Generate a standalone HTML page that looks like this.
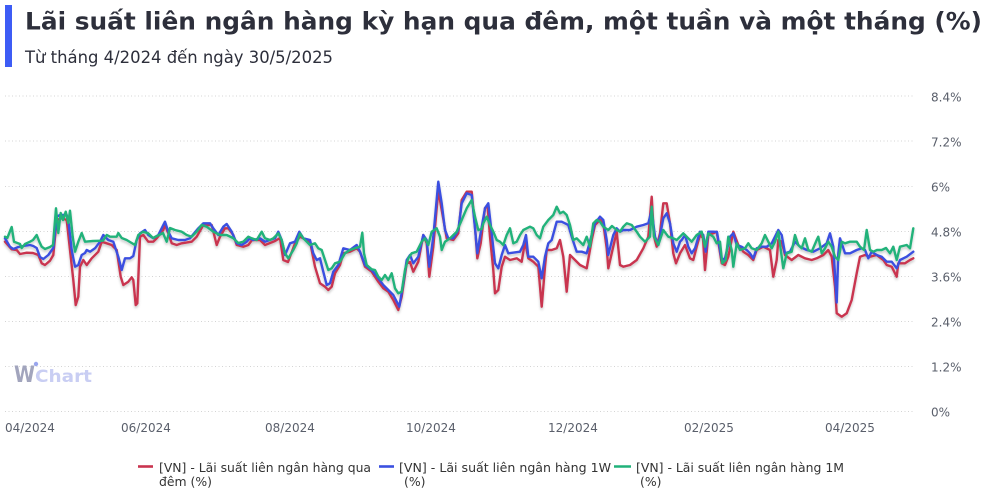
<!DOCTYPE html>
<html><head><meta charset="utf-8"><style>
html,body{margin:0;padding:0;background:#fff;}
svg{display:block;}
</style></head><body>
<svg width="1000" height="495" viewBox="0 0 1000 495" xmlns="http://www.w3.org/2000/svg">
<defs>
<filter id="sh" x="-5%" y="-10%" width="110%" height="130%">
<feDropShadow dx="0" dy="2" stdDeviation="1.2" flood-color="#000" flood-opacity="0.22"/>
</filter>
</defs>
<rect width="1000" height="495" fill="#fff"/>
<!-- title -->
<rect x="5" y="5" width="7" height="62" fill="#3d5cf5"/>
<text x="25" y="29.5" font-family="DejaVu Sans, Liberation Sans, sans-serif" font-weight="bold" font-size="24" fill="#2d2f3b" textLength="957" lengthAdjust="spacingAndGlyphs">Lãi suất liên ngân hàng kỳ hạn qua đêm, một tuần và một tháng (%)</text>
<text x="25" y="63" font-family="DejaVu Sans, Liberation Sans, sans-serif" font-size="16.4" fill="#2d2f3b" textLength="308" lengthAdjust="spacingAndGlyphs">Từ tháng 4/2024 đến ngày 30/5/2025</text>

<!-- gridlines -->
<g stroke="#d4d4d4" stroke-width="1" stroke-dasharray="1,2.5">
<line x1="5" y1="96" x2="915" y2="96"/>
<line x1="5" y1="141" x2="915" y2="141"/>
<line x1="5" y1="186.5" x2="915" y2="186.5"/>
<line x1="5" y1="231.5" x2="915" y2="231.5"/>
<line x1="5" y1="276.5" x2="915" y2="276.5"/>
<line x1="5" y1="321.5" x2="915" y2="321.5"/>
<line x1="5" y1="366.5" x2="915" y2="366.5"/>
<line x1="5" y1="411.5" x2="915" y2="411.5"/>
</g>
<g font-family="DejaVu Sans, Liberation Sans, sans-serif" font-size="12" fill="#5a5f6b">
<text x="931" y="101.5">8.4%</text>
<text x="931" y="146.5">7.2%</text>
<text x="931" y="191.5">6%</text>
<text x="931" y="236.5">4.8%</text>
<text x="931" y="281.5">3.6%</text>
<text x="931" y="326.5">2.4%</text>
<text x="931" y="371.5">1.2%</text>
<text x="931" y="416.5">0%</text>
<text x="5" y="432">04/2024</text>
<text x="121" y="432">06/2024</text>
<text x="265" y="432">08/2024</text>
<text x="406" y="432">10/2024</text>
<text x="548" y="432">12/2024</text>
<text x="684" y="432">02/2025</text>
<text x="825" y="432">04/2025</text>
</g>

<!-- watermark -->
<g font-family="DejaVu Sans, Liberation Sans, sans-serif" font-weight="bold">
<text x="14" y="382" font-size="22" fill="#a2a5bd" textLength="21" lengthAdjust="spacingAndGlyphs">W</text>
<circle cx="36" cy="364" r="2.2" fill="#9aa6ee"/>
<text x="35" y="382" font-size="17" fill="#c9cef3" textLength="57" lengthAdjust="spacingAndGlyphs">Chart</text>
</g>

<!-- series -->
<g fill="none" stroke-width="2.4" stroke-linejoin="round" stroke-linecap="round" filter="url(#sh)">
<polyline stroke="#c9344f" points="5,241.7 11.7,249.3 16.7,250 20,254 26.7,252.7 33,253 38.3,255 41.7,263.3 45,265 50,260.7 53.3,255 56.7,220 61.7,218.3 66.7,220 70,250 73.3,280 75.7,305 78.3,296.7 80,266.7 83.3,260 86.7,265 91.7,258.3 98.3,251.7 101.7,241.7 106.7,243.3 111.7,245 116.7,250 120.7,276.7 123.3,285 128.3,281.7 131.7,277.3 133.3,280 135.7,305 137.3,303.3 140,236.7 143.3,235 148.3,241.7 153.3,241.7 156.7,238.3 163.3,230 165,225 168.3,233.3 171.7,243.3 176.7,245 181.7,243.3 191.7,241.7 196.7,236.7 203.3,225 211.7,225 216.7,245 220,236.7 225,228.3 228.3,228.3 233.3,235 236.7,245 243.3,246.7 248.3,245 252,240 260,240 265,245 275,241 280,238 283.3,260 288,262 295,243.3 300,236.7 310,241.7 315,266.7 320,283.3 325,286.7 328.3,290 331.7,286.7 335,273.3 340,265 343.3,253.3 350,251.7 356.7,248.3 360,251.7 365,266.7 371.7,271.7 378.3,281.7 383.3,288.3 388.3,291.7 393.3,300 398.3,310 401.7,296.7 406.7,263.3 410,262 413.3,271.7 418.3,261.7 423.3,235 426.7,243.3 429.3,276.7 433.3,246.7 438.3,190 441.7,210 446.7,238.3 453.3,240 458.3,233.3 461.7,200 466.7,191.7 471.7,191.7 475,226.7 477.3,258.3 480.7,243.3 485,208 487.5,205 490,236.7 493.3,270 495,293.3 498.3,290 501.7,266.7 505,256.7 510,260 516.7,258.3 521.7,261.7 525,241.7 528.3,258.3 533.3,261.7 538.3,266.7 541.7,306.7 545,266.7 546.7,250 551.7,250 556.7,248.3 560,240 563.3,256.7 566.7,291.7 570,255 575,260 580,265 586.7,268.3 591.7,240 595,225 600,220 603.3,223.3 606.7,248.3 608.3,268.3 611.7,253.3 616.7,231.7 620,265 623.3,266.7 630,265 636.7,260 643.3,248.3 648.3,236.7 651.7,196.7 654,236.7 656.7,246.7 660,233.3 663.3,203.3 666.7,203.3 670,223.3 673.3,253.3 676,263.3 680,253.3 685,245 690,258.3 693.3,260 696.7,246.7 700,235 703,238 705,270 708.3,235 713.3,233.3 716.7,231.7 721.7,263.3 725,265 728.3,256.7 733.3,231.7 738.3,245 743.3,251.7 748.3,255 753.3,260 756.7,250 763.3,246.7 770,250 773.3,276.7 776.7,260 778.3,240 781.7,241.7 785,255 791.7,260 798.3,255 805,258.3 811.7,260 816.7,258.3 823.3,255 828.3,250 831.7,256.7 835,286.7 836.7,313.3 841.7,316.7 846.7,313.3 851.7,300 856.7,273.3 860,256.7 865,255 870,256.7 876.7,255 883.3,260 886.7,265 891.7,266.7 896.7,276.7 898.3,263.3 905,263.3 910,260 913.3,258.3"/>
<polyline stroke="#3b50e0" points="5,238.3 10,246.7 13.3,249 18.3,247 23.3,246 30,245 33.3,246 36.7,248 40,257 43.3,259 48.3,255 53.3,248 56.7,216.7 60,215 66.7,215 68.3,220 71.7,250 75,266.7 78.3,265 81.7,255 85,253 86.7,250 90,251.7 95,248.3 100,241.7 103.3,235 108.3,240 113.3,241.7 118.3,256.7 121.7,270 125,258.3 130,258.3 133.3,256 136.7,240 140,233.3 145,230 148.3,235 153.3,238.3 158.3,235 163.3,225 165,221.7 168.3,231.7 171.7,238.3 178.3,240 185,240 190,238.3 198.3,228.3 203.3,223.3 210,223.3 213.3,228.3 218.3,235 223.3,226.7 226.7,224 231.7,231.7 236.7,243.3 241.7,245 246.7,241.7 250,238.3 253.3,240 260,238.3 265,241.7 275,238.3 278.3,231.7 281.7,240 285,255 290,243.3 295,241.7 299.3,231.7 303.3,238.3 310,240 313.3,253.3 316.7,260 320,258.3 323.3,271.7 326.7,285 330,283.3 333.3,271.7 338.3,265 343.3,248.3 350,250 356.7,245 360,251.7 365,265 371.7,270 378.3,278.3 383.3,285 388.3,290 393.3,295 399.3,306.7 403.3,283.3 406.7,260 410,255 413.3,263.3 418.3,256.7 423.3,235 426.7,240 429.3,266.7 433.3,236.7 438.3,181.7 441.7,203.3 445,230 448.3,238.3 453.3,238.3 458.3,230 461.7,203.3 466.7,193.3 471.7,195 475,228.3 477.3,253.3 480,236.7 485,208.3 488.3,203.3 491.7,233.3 495,263.3 498.3,268.3 501.7,255 505,245 508.3,253.3 520,251.7 523.3,245 526,235 528.3,256.7 533.3,256.7 538.3,261.7 541.7,278.3 545,256.7 548.3,243.3 551.7,240 556.7,221.7 561.7,221.7 565,223.3 568.3,225 571.7,236.7 576.7,251.7 581.7,251.7 586.7,253.3 591.7,235 595,223.3 600,216.7 603.3,220 606.7,240 608.3,255 613.3,235 616.7,228.3 620,231.7 623.3,230 630,230 636.7,226.7 643.3,225 648.3,223.3 651.7,210 655,236.7 658.3,245 663.3,218.3 666.7,213.3 670,223.3 673.3,243.3 676.7,251.7 680,241.7 681.7,240 685,235 688.3,246.7 691.7,253.3 695,248.3 700,231.7 703.3,235 705.7,251.7 708.3,231.7 713.3,231.7 717,232 721.7,260 725,258.3 730,236.7 733.3,233.3 736.7,245 741.7,246.7 746.7,250 750,253.3 753.3,258.3 756.7,248.3 761.7,246.7 766.7,246.7 771.7,243.3 775,236.7 778.3,230 781.7,235 785,253.3 790,251.7 795,241.7 800,246.7 806.7,250 813.3,251.7 820,248.3 826.7,243.3 830,233.3 833.3,246.7 836.7,302.5 838.3,253.3 840,238.3 845,253.3 850,253.3 856.7,250 861.7,248.3 865,250 868.3,258.3 871.7,251.7 876.7,255 881.7,256.7 886.7,261.7 891.7,261.7 896.7,268.3 900,260 906.7,256.7 913.3,251.7"/>
<polyline stroke="#20b27a" points="5,236.7 7.3,238 11.7,227 14,241.7 16.7,242.7 20,244 21.7,248 25,244 30,241.7 33,240 36.7,235 39.3,241.7 41.7,246.7 45,249 50,247 53,245 56,208.3 58.3,233 60.7,213 63,220 65.7,211.7 68.3,223 70,210.7 72.7,236.7 75,251.7 78.3,241.7 81.7,233 85,241.7 93,241 103,240.7 106.7,235 110,236.7 116.7,236.7 118.3,233 121.7,238 126.7,240 135,245 138.3,235 143,231.7 148.3,233.3 153,238 163,233 166.7,241.7 170,228 175,230 181.7,231.7 186.7,235 191.7,236.7 196.7,231.7 201.7,225 206.7,226.7 213.3,231.7 220,235 226.7,235 233,238 238.3,243 243.3,241.7 248.3,236.7 251.7,238.3 256.7,240 261.7,231.7 265,238.3 270,240 273.3,238.3 278.3,233.3 281.7,240 285,253.3 288.3,258.3 293.3,250 296.7,243.3 300,233.3 303.3,238.3 306.7,241.7 310,245 315,243.3 318.3,248.3 321.7,250 325,260 328.3,270 331.7,268.3 335,263.3 340,261.7 345,253.3 350,250 355,248.3 360,246.7 362.3,232.7 364,253.3 366.7,265 371.7,269.3 375,270 378.3,276.7 381.7,280 385,275 388.3,280 391.7,273.3 395,288.3 398.3,293.3 401.7,291.7 405,270 408.3,258.3 411.7,253.3 416.7,251.7 421.7,241.7 425,238.3 428.3,245 431.7,231.7 436.7,228.3 440,236.7 441.7,250 445,241.7 450,238.3 456.7,231.7 461.7,220 466.7,208.3 471.7,200 475,216.7 478.3,230 481.7,229 483.3,223.3 486.7,216.7 490,225 493.3,231.7 496.7,240 500,241.7 503.3,245 506.7,235 510,228.3 513.3,243.3 516.7,241.7 520,235 523.3,230 530,226.7 533.3,228.3 536.7,235 540,238.3 543.3,226.7 548.3,220 553.3,215 556.7,206.7 560,213.3 563.3,211.7 566.7,215 570,225 573.3,240 576.7,238.3 580,241.7 583.3,245 586.7,236.7 590,246.7 593.3,223.3 596.7,220 600,221.7 603.3,226.7 608.3,230 612,226 616.7,230 620,231.7 623.3,226.7 626.7,223.3 631.7,225 636.7,231.7 640,236.7 645,241.7 650,236.7 651.7,206.7 654,236.7 658.3,245 663.3,230 668.3,236.7 673.3,238.3 676.7,240 680,236.7 683.3,233.3 686.7,236.7 691.7,241.7 696.7,235 701.7,231.7 705,246.7 708.3,233.3 713.3,236.7 716.7,243.3 720,241.7 722.3,263.3 725.7,260 728.3,236.7 731.7,250 733.3,266.7 736.7,243.3 740,250 745,248.3 748.3,243.3 751.7,248.3 756.7,250 761.7,243.3 765,235 768.3,241.7 771.7,248.3 775,241.7 778.3,231.7 781.7,256.7 783.3,268.3 786.7,253.3 791.7,251.7 795,235 798.3,245 801.7,248.3 805,238.3 808.3,250 811.7,251.7 816.7,240 818.3,236.7 821.7,253.3 825,248.3 828.3,241.7 831.7,246.7 835,256.7 838.3,260 841.7,241.7 845,243.3 850,241.7 856.7,241.7 860,246.7 864,250 866.7,230 870,250 873.3,251.7 877,250 881.7,250 886,248 890,253.3 893.3,246.7 896.7,260 900,246.7 906.7,245 910,248.3 913.3,228.3"/>
</g>

<!-- legend -->
<g stroke-width="2.6">
<line x1="138" y1="466.5" x2="153" y2="466.5" stroke="#c9344f"/>
<line x1="379" y1="466.5" x2="394" y2="466.5" stroke="#3b50e0"/>
<line x1="614" y1="466.5" x2="631" y2="466.5" stroke="#20b27a"/>
</g>
<g font-family="DejaVu Sans, Liberation Sans, sans-serif" font-size="12.4" fill="#333">
<text x="159" y="472" textLength="212" lengthAdjust="spacingAndGlyphs">[VN] - Lãi suất liên ngân hàng qua</text>
<text x="159" y="486">đêm (%)</text>
<text x="399" y="472" textLength="212" lengthAdjust="spacingAndGlyphs">[VN] - Lãi suất liên ngân hàng 1W</text>
<text x="404" y="486">(%)</text>
<text x="636" y="472" textLength="208" lengthAdjust="spacingAndGlyphs">[VN] - Lãi suất liên ngân hàng 1M</text>
<text x="640" y="486">(%)</text>
</g>
</svg>
</body></html>
